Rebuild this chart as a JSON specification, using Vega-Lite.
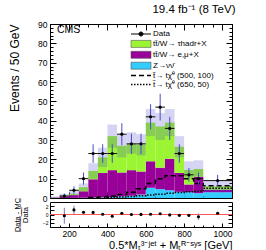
{
  "$schema": "https://vega.github.io/schema/vega-lite/v6.json",
  "padding": {"left": 8, "top": 4, "right": 0, "bottom": 0},
  "config": {
    "font": "Liberation Sans",
    "view": {"stroke": "black", "strokeWidth": 1},
    "axis": {"domain": false, "grid": false, "tickColor": "black", "labelColor": "black", "titleColor": "black", "titleFontWeight": "normal", "labelFont": "Liberation Sans", "titleFont": "Liberation Sans"}
  },
  "title": {"text": "19.4 fb⁻¹ (8 TeV)", "anchor": "end", "fontSize": 11.5, "fontWeight": "normal", "offset": 4, "color": "black"},
  "spacing": 4,
  "bounds": "flush",
  "datasets": {
    "bkg": [
      {"lo": 100, "hi": 150, "proc": "b1_znn", "v": 0},
      {"lo": 150, "hi": 200, "proc": "b1_znn", "v": 0},
      {"lo": 200, "hi": 250, "proc": "b1_znn", "v": 0.05},
      {"lo": 250, "hi": 300, "proc": "b1_znn", "v": 0.1},
      {"lo": 300, "hi": 350, "proc": "b1_znn", "v": 0.2},
      {"lo": 350, "hi": 400, "proc": "b1_znn", "v": 0.3},
      {"lo": 400, "hi": 450, "proc": "b1_znn", "v": 0.5},
      {"lo": 450, "hi": 500, "proc": "b1_znn", "v": 0.8},
      {"lo": 500, "hi": 550, "proc": "b1_znn", "v": 1.2},
      {"lo": 550, "hi": 600, "proc": "b1_znn", "v": 1.8},
      {"lo": 600, "hi": 650, "proc": "b1_znn", "v": 5.3},
      {"lo": 650, "hi": 700, "proc": "b1_znn", "v": 4.6},
      {"lo": 700, "hi": 750, "proc": "b1_znn", "v": 4.0},
      {"lo": 750, "hi": 800, "proc": "b1_znn", "v": 3.2},
      {"lo": 800, "hi": 850, "proc": "b1_znn", "v": 3.0},
      {"lo": 850, "hi": 900, "proc": "b1_znn", "v": 2.5},
      {"lo": 900, "hi": 1050, "proc": "b1_znn", "v": 3.0},
      {"lo": 100, "hi": 150, "proc": "b2_emu", "v": 0.2},
      {"lo": 150, "hi": 200, "proc": "b2_emu", "v": 0.8},
      {"lo": 200, "hi": 250, "proc": "b2_emu", "v": 1.45},
      {"lo": 250, "hi": 300, "proc": "b2_emu", "v": 3.4},
      {"lo": 300, "hi": 350, "proc": "b2_emu", "v": 9.5},
      {"lo": 350, "hi": 400, "proc": "b2_emu", "v": 12.7},
      {"lo": 400, "hi": 450, "proc": "b2_emu", "v": 13.9},
      {"lo": 450, "hi": 500, "proc": "b2_emu", "v": 12.4},
      {"lo": 500, "hi": 550, "proc": "b2_emu", "v": 13.2},
      {"lo": 550, "hi": 600, "proc": "b2_emu", "v": 11.9},
      {"lo": 600, "hi": 650, "proc": "b2_emu", "v": 13.7},
      {"lo": 650, "hi": 700, "proc": "b2_emu", "v": 11.1},
      {"lo": 700, "hi": 750, "proc": "b2_emu", "v": 16.3},
      {"lo": 750, "hi": 800, "proc": "b2_emu", "v": 9.8},
      {"lo": 800, "hi": 850, "proc": "b2_emu", "v": 4.0},
      {"lo": 850, "hi": 900, "proc": "b2_emu", "v": 8.5},
      {"lo": 900, "hi": 1050, "proc": "b2_emu", "v": 1.3},
      {"lo": 100, "hi": 150, "proc": "b3_tau", "v": 0.1},
      {"lo": 150, "hi": 200, "proc": "b3_tau", "v": 0.4},
      {"lo": 200, "hi": 250, "proc": "b3_tau", "v": 0.7},
      {"lo": 250, "hi": 300, "proc": "b3_tau", "v": 2.0},
      {"lo": 300, "hi": 350, "proc": "b3_tau", "v": 4.3},
      {"lo": 350, "hi": 400, "proc": "b3_tau", "v": 8.0},
      {"lo": 400, "hi": 450, "proc": "b3_tau", "v": 17.6},
      {"lo": 450, "hi": 500, "proc": "b3_tau", "v": 13.8},
      {"lo": 500, "hi": 550, "proc": "b3_tau", "v": 13.6},
      {"lo": 550, "hi": 600, "proc": "b3_tau", "v": 13.8},
      {"lo": 600, "hi": 650, "proc": "b3_tau", "v": 20.0},
      {"lo": 650, "hi": 700, "proc": "b3_tau", "v": 21.3},
      {"lo": 700, "hi": 750, "proc": "b3_tau", "v": 18.7},
      {"lo": 750, "hi": 800, "proc": "b3_tau", "v": 13.5},
      {"lo": 800, "hi": 850, "proc": "b3_tau", "v": 7.5},
      {"lo": 850, "hi": 900, "proc": "b3_tau", "v": 4.0},
      {"lo": 900, "hi": 1050, "proc": "b3_tau", "v": 1.7}
    ],
    "unc": [
      {"lo": 100, "hi": 150, "ulo": 0, "uhi": 0.8},
      {"lo": 150, "hi": 200, "ulo": 0.5, "uhi": 2.2},
      {"lo": 200, "hi": 250, "ulo": 1, "uhi": 4},
      {"lo": 250, "hi": 300, "ulo": 3.5, "uhi": 7.5},
      {"lo": 300, "hi": 350, "ulo": 10, "uhi": 18},
      {"lo": 350, "hi": 400, "ulo": 16, "uhi": 26},
      {"lo": 400, "hi": 450, "ulo": 26, "uhi": 38},
      {"lo": 450, "hi": 500, "ulo": 21, "uhi": 33},
      {"lo": 500, "hi": 550, "ulo": 23, "uhi": 34},
      {"lo": 550, "hi": 600, "ulo": 22, "uhi": 33},
      {"lo": 600, "hi": 650, "ulo": 32, "uhi": 46},
      {"lo": 650, "hi": 700, "ulo": 30, "uhi": 44},
      {"lo": 700, "hi": 750, "ulo": 32, "uhi": 46},
      {"lo": 750, "hi": 800, "ulo": 21, "uhi": 32},
      {"lo": 800, "hi": 850, "ulo": 10.5, "uhi": 19},
      {"lo": 850, "hi": 900, "ulo": 11, "uhi": 19.5},
      {"lo": 900, "hi": 1050, "ulo": 3, "uhi": 9}
    ],
    "sig": [
      {"proc": "s500", "lo": 300, "hi": 350, "v": 0.3},
      {"proc": "s500", "lo": 350, "hi": 400, "v": 0.5},
      {"proc": "s500", "lo": 400, "hi": 450, "v": 1.0},
      {"proc": "s500", "lo": 450, "hi": 500, "v": 1.8},
      {"proc": "s500", "lo": 500, "hi": 550, "v": 3.0},
      {"proc": "s500", "lo": 550, "hi": 600, "v": 4.8},
      {"proc": "s500", "lo": 600, "hi": 650, "v": 7.5},
      {"proc": "s500", "lo": 650, "hi": 700, "v": 10.0},
      {"proc": "s500", "lo": 700, "hi": 750, "v": 11.5},
      {"proc": "s500", "lo": 750, "hi": 800, "v": 11.5},
      {"proc": "s500", "lo": 800, "hi": 850, "v": 10.0},
      {"proc": "s500", "lo": 850, "hi": 900, "v": 7.5},
      {"proc": "s500", "lo": 900, "hi": 1050, "v": 6.3},
      {"proc": "s650", "lo": 400, "hi": 450, "v": 0.3},
      {"proc": "s650", "lo": 450, "hi": 500, "v": 0.5},
      {"proc": "s650", "lo": 500, "hi": 550, "v": 0.8},
      {"proc": "s650", "lo": 550, "hi": 600, "v": 1.2},
      {"proc": "s650", "lo": 600, "hi": 650, "v": 1.6},
      {"proc": "s650", "lo": 650, "hi": 700, "v": 2.0},
      {"proc": "s650", "lo": 700, "hi": 750, "v": 2.4},
      {"proc": "s650", "lo": 750, "hi": 800, "v": 2.8},
      {"proc": "s650", "lo": 800, "hi": 850, "v": 3.2},
      {"proc": "s650", "lo": 850, "hi": 900, "v": 3.5},
      {"proc": "s650", "lo": 900, "hi": 1050, "v": 5.0}
    ],
    "obs": [
      {"lo": 150, "hi": 200, "c": 175, "n": 1, "elo": 0.4, "ehi": 2.3},
      {"lo": 200, "hi": 250, "c": 225, "n": 4, "elo": 2, "ehi": 6},
      {"lo": 250, "hi": 300, "c": 275, "n": 10, "elo": 6.9, "ehi": 13.2},
      {"lo": 300, "hi": 350, "c": 325, "n": 23, "elo": 18.2, "ehi": 27.8},
      {"lo": 350, "hi": 400, "c": 375, "n": 23, "elo": 18.2, "ehi": 27.8},
      {"lo": 400, "hi": 450, "c": 425, "n": 23, "elo": 18.2, "ehi": 27.8},
      {"lo": 450, "hi": 500, "c": 475, "n": 33, "elo": 27.3, "ehi": 38.7},
      {"lo": 500, "hi": 550, "c": 525, "n": 28, "elo": 22.7, "ehi": 33.3},
      {"lo": 550, "hi": 600, "c": 575, "n": 28, "elo": 22.7, "ehi": 33.3},
      {"lo": 600, "hi": 650, "c": 625, "n": 42, "elo": 35.5, "ehi": 48.5},
      {"lo": 650, "hi": 700, "c": 675, "n": 47, "elo": 40.1, "ehi": 53.9},
      {"lo": 700, "hi": 750, "c": 725, "n": 36, "elo": 30, "ehi": 42},
      {"lo": 750, "hi": 800, "c": 775, "n": 23, "elo": 18.2, "ehi": 27.8},
      {"lo": 800, "hi": 850, "c": 825, "n": 12, "elo": 8.5, "ehi": 15.5},
      {"lo": 850, "hi": 900, "c": 875, "n": 10, "elo": 6.8, "ehi": 13.2},
      {"lo": 900, "hi": 1050, "c": 975, "n": 9, "elo": 6, "ehi": 12}
    ],
    "ratio": [
      {"c": 175, "r": -0.3, "rlo": -2.2, "rhi": 1.6},
      {"c": 225, "r": 1.1, "rlo": 0.1, "rhi": 2.1},
      {"c": 275, "r": 0.55, "rlo": 0.2, "rhi": 0.9},
      {"c": 325, "r": 0.5, "rlo": 0.25, "rhi": 0.75},
      {"c": 375, "r": 0.05, "rlo": -0.2, "rhi": 0.3},
      {"c": 425, "r": -0.43, "rlo": -0.73, "rhi": -0.13},
      {"c": 475, "r": 0.29, "rlo": 0.09, "rhi": 0.49},
      {"c": 525, "r": 0.0, "rlo": -0.2, "rhi": 0.2},
      {"c": 575, "r": 0.02, "rlo": -0.18, "rhi": 0.22},
      {"c": 625, "r": 0.05, "rlo": -0.12, "rhi": 0.22},
      {"c": 675, "r": 0.17, "rlo": 0.02, "rhi": 0.32},
      {"c": 725, "r": -0.1, "rlo": -0.28, "rhi": 0.08},
      {"c": 775, "r": -0.2, "rlo": -0.45, "rhi": 0.05},
      {"c": 825, "r": -0.2, "rlo": -0.55, "rhi": 0.15},
      {"c": 875, "r": -0.53, "rlo": -1.33, "rhi": 0.27},
      {"c": 975, "r": 0.29, "rlo": -0.06, "rhi": 0.64}
    ]
  },
  "vconcat": [
    {
      "width": 182,
      "height": 174,
      "title": {"text": "CMS", "anchor": "start", "frame": "group", "offset": -15, "dx": 7, "fontSize": 10.5, "fontWeight": "normal", "color": "black"},
      "resolve": {"axis": {"x": "independent", "y": "independent"}},
      "layer": [
        {
          "data": {"name": "bkg"},
          "transform": [{"stack": "v", "groupby": ["lo"], "sort": [{"field": "proc", "order": "ascending"}], "as": ["y0", "y1"]}],
          "mark": {"type": "bar"},
          "encoding": {
            "x": {"field": "lo", "type": "quantitative", "scale": {"domain": [100, 1050], "nice": false, "zero": false},
                  "axis": {"orient": "bottom", "values": [200, 400, 600, 800, 1000], "labels": false, "title": null, "tickSize": -6}},
            "x2": {"field": "hi"},
            "y": {"field": "y0", "type": "quantitative", "scale": {"domain": [0, 90], "nice": false},
                  "axis": {"orient": "left", "values": [0, 10, 20, 30, 40, 50, 60, 70, 80, 90], "tickSize": -6, "labelPadding": 9, "labelFontSize": 8.5,
                           "title": "Events / 50 GeV", "titleFontSize": 12, "titleAnchor": "end", "titlePadding": 16}},
            "y2": {"field": "y1"},
            "color": {"field": "proc", "type": "nominal",
                      "scale": {"domain": ["data", "b3_tau", "b2_emu", "b1_znn", "s500", "s650"], "range": ["black", "#9cf532", "#990099", "#33ccff", "black", "black"]},
                      "legend": {
                        "orient": "none", "legendX": 82, "legendY": 6, "title": null, "padding": 0,
                        "labelFontSize": 8, "labelOffset": 13, "symbolSize": 100, "rowPadding": 0.9,
                        "labelExpr": "['Data', 'tt̄/W→ τhadr+X', 'tt̄/W→ e,μ+X', 'Z→νν̄', 't̃→ tχ̃⁰ (500, 100)', 't̃→ tχ̃⁰ (650, 50)'][datum.index]",
                        "encode": {"symbols": {"update": {
                          "shape": {"signal": "datum.index === 0 ? 'M-1,0H3M1.4,0A0.4,0.4,0,1,1,0.6,0A0.4,0.4,0,1,1,1.4,0Z' : (datum.index >= 4 ? 'M-1,0H3' : 'M-1,-0.7H3V0.7H-1Z')"},
                          "fill": {"signal": "['black', '#9cf532', '#990099', '#33ccff', 'transparent', 'transparent'][datum.index]"},
                          "stroke": {"signal": "(datum.index === 0 || datum.index >= 4) ? 'black' : '#555555'"},
                          "strokeWidth": {"signal": "datum.index >= 4 ? 1.5 : (datum.index === 0 ? 1 : 0.6)"},
                          "strokeDash": {"signal": "datum.index === 4 ? [5, 3] : (datum.index === 5 ? [1.5, 1.5] : [1, 0])"},
                          "opacity": {"value": 1}
                        }}}
                      }}
          }
        },
        {
          "data": {"name": "unc"},
          "mark": {"type": "bar", "color": "#4040c8", "opacity": 0.22},
          "encoding": {
            "x": {"field": "lo", "type": "quantitative", "axis": {"orient": "bottom", "values": [100,150,200,250,300,350,400,450,500,550,600,650,700,750,800,850,900,950,1000,1050], "labels": false, "title": null, "tickSize": -3}},
            "x2": {"field": "hi"},
            "y": {"field": "ulo", "type": "quantitative", "axis": {"orient": "left", "values": [0,2,4,6,8,10,12,14,16,18,20,22,24,26,28,30,32,34,36,38,40,42,44,46,48,50,52,54,56,58,60,62,64,66,68,70,72,74,76,78,80,82,84,86,88,90], "labels": false, "title": null, "tickSize": -3}},
            "y2": {"field": "uhi"}
          }
        },
        {
          "data": {"name": "sig"},
          "transform": [{"fold": ["lo", "hi"], "as": ["key", "edge"]}],
          "mark": {"type": "line", "color": "black", "strokeWidth": 1.5},
          "encoding": {
            "x": {"field": "edge", "type": "quantitative", "axis": {"orient": "top", "values": [200, 400, 600, 800, 1000], "labels": false, "title": null, "tickSize": -6}},
            "y": {"field": "v", "type": "quantitative", "axis": {"orient": "right", "values": [0, 10, 20, 30, 40, 50, 60, 70, 80, 90], "labels": false, "title": null, "tickSize": -6}},
            "detail": {"field": "proc", "type": "nominal"},
            "strokeDash": {"field": "proc", "type": "nominal", "scale": {"domain": ["s500", "s650"], "range": [[5, 3], [1.5, 1.5]]}, "legend": null},
            "order": [{"field": "edge", "type": "quantitative"}, {"field": "key", "type": "nominal"}]
          }
        },
        {
          "data": {"name": "obs"},
          "mark": {"type": "rule", "color": "#111111", "strokeWidth": 1},
          "encoding": {
            "x": {"field": "lo", "type": "quantitative", "axis": {"orient": "top", "values": [100,150,200,250,300,350,400,450,500,550,600,650,700,750,800,850,900,950,1000,1050], "labels": false, "title": null, "tickSize": -3}},
            "x2": {"field": "hi"},
            "y": {"field": "n", "type": "quantitative", "axis": {"orient": "right", "values": [0,2,4,6,8,10,12,14,16,18,20,22,24,26,28,30,32,34,36,38,40,42,44,46,48,50,52,54,56,58,60,62,64,66,68,70,72,74,76,78,80,82,84,86,88,90], "labels": false, "title": null, "tickSize": -3}}
          }
        },
        {
          "data": {"name": "obs"},
          "mark": {"type": "rule", "color": "#4b4bc8", "strokeWidth": 1},
          "encoding": {
            "x": {"field": "c", "type": "quantitative", "axis": null},
            "y": {"field": "elo", "type": "quantitative", "axis": null},
            "y2": {"field": "ehi"}
          }
        },
        {
          "data": {"name": "obs"},
          "mark": {"type": "point", "shape": "circle", "filled": true, "color": "black", "opacity": 1, "size": 10},
          "encoding": {
            "x": {"field": "c", "type": "quantitative", "axis": null},
            "y": {"field": "n", "type": "quantitative", "axis": null}
          }
        }
      ]
    },
    {
      "width": 182,
      "height": 25,
      "resolve": {"axis": {"x": "independent", "y": "independent"}},
      "layer": [
        {
          "data": {"values": [{"ref": 0}]},
          "mark": {"type": "rule", "color": "#ff5555", "strokeWidth": 1},
          "encoding": {
            "y": {"field": "ref", "type": "quantitative", "scale": {"domain": [-3, 3], "nice": false},
                  "axis": {"orient": "left", "values": [-2, -1, 0, 1, 2], "tickSize": -4, "labelPadding": 6, "labelFontSize": 5,
                           "title": ["D̲a̲t̲a̲ ̲-̲ ̲M̲C̲", "Data"], "titleFontSize": 7.5, "titlePadding": 13, "titleLineHeight": 8}}
          }
        },
        {
          "data": {"name": "ratio"},
          "mark": {"type": "rule", "color": "#8c8cd0", "strokeWidth": 1.2},
          "encoding": {
            "x": {"field": "c", "type": "quantitative", "scale": {"domain": [100, 1050], "nice": false, "zero": false},
                  "axis": {"orient": "bottom", "values": [200, 400, 600, 800, 1000], "format": "d", "tickSize": -4, "labelPadding": 6, "labelFontSize": 8.5,
                           "title": "0.5*Mₜ³⁻ʲᵉᵗ + Mₜᴿ⁻ˢʸˢ [GeV]", "titleFontSize": 11, "titleAnchor": "end", "titlePadding": 2}},
            "y": {"field": "rlo", "type": "quantitative", "axis": {"orient": "right", "values": [-2, -1, 0, 1, 2], "labels": false, "title": null, "tickSize": -4}},
            "y2": {"field": "rhi"}
          }
        },
        {
          "data": {"name": "ratio"},
          "mark": {"type": "point", "shape": "circle", "filled": true, "color": "black", "opacity": 1, "size": 10},
          "encoding": {
            "x": {"field": "c", "type": "quantitative", "axis": {"orient": "bottom", "values": [100,150,200,250,300,350,400,450,500,550,600,650,700,750,800,850,900,950,1000,1050], "labels": false, "title": null, "tickSize": -2}},
            "y": {"field": "r", "type": "quantitative", "axis": null}
          }
        }
      ]
    }
  ]
}
